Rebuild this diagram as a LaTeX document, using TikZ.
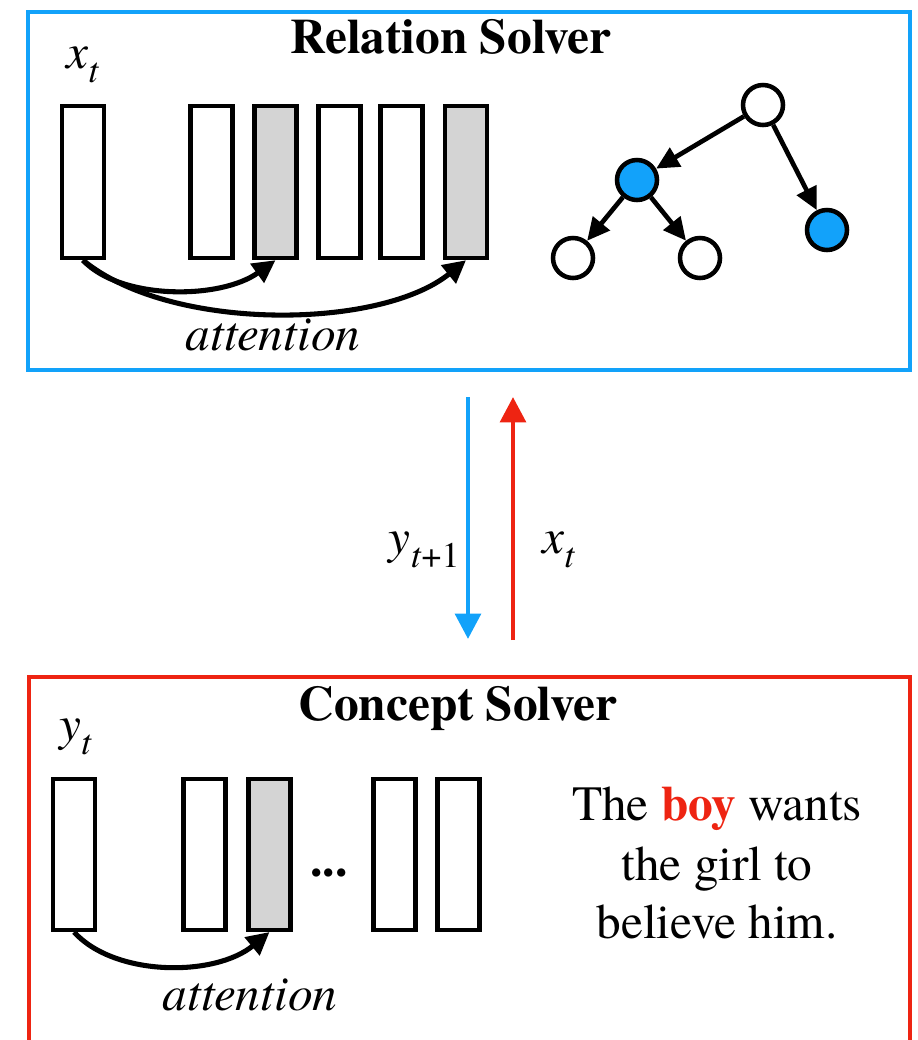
\documentclass[tikz,border=0pt]{standalone}
\usepackage{fontspec}
\setmainfont{texgyretermes}[Extension=.otf, UprightFont=*-regular, BoldFont=*-bold, ItalicFont=*-italic, BoldItalicFont=*-bolditalic]
\usetikzlibrary{arrows.meta}
\definecolor{rsblue}{RGB}{18,162,250}
\definecolor{csred}{RGB}{238,36,18}
\definecolor{cellgray}{RGB}{212,212,212}
\tikzset{
  cell/.style={draw=black, line width=3.3pt, fill=white, minimum width=31.5pt, minimum height=114pt, inner sep=0pt},
  graycell/.style={cell, fill=cellgray},
  attn/.style={line width=3.8pt, -{Triangle[length=17pt,width=17pt]}},
  tnode/.style={circle, draw=black, line width=3.4pt, fill=white, minimum size=30pt, inner sep=0pt},
  bluetnode/.style={tnode, fill=rsblue},
  tedge/.style={line width=3.5pt, -{Triangle[length=17pt,width=16pt]}},
  flow/.style={line width=3.6pt, -{Triangle[length=19pt,width=19pt]}},
  big/.style={font=\fontsize{37}{44}\selectfont, inner sep=0pt},
  title/.style={font=\fontsize{37}{44}\selectfont\bfseries, inner sep=0pt}
}
\begin{document}
\begin{tikzpicture}[x=0.75pt,y=-0.75pt]
\useasboundingbox (0,0) rectangle (918,1040);
% ---------- Relation Solver ----------
\node[draw=rsblue, line width=3.3pt, minimum width=661.5pt, minimum height=268.5pt, inner sep=0pt] (topbox) at (469,191) {};
\node[title, anchor=base] (rtitle) at (451,53) {Relation Solver};
\node[big, anchor=base west] (xtlabel) at (66,68) {\textit{x}\raisebox{-0.3em}{\fontsize{27}{30}\selectfont\textit{t}}};
\node[cell] (r1) at (83,182) {};
\node[cell] (r2) at (211.5,182) {};
\node[graycell] (r3) at (275.5,182) {};
\node[cell] (r4) at (339.5,182) {};
\node[cell] (r5) at (401.5,182) {};
\node[graycell] (r6) at (466,182) {};
\draw[attn] (r1.south) .. controls (120,300) and (220,300) .. (r3.south);
\draw[attn] (r1.south) .. controls (170,332) and (380,330) .. (r6.south);
\node[big, anchor=base] (rattn) at (273,350) {\textit{attention}};
% tree
\node[tnode] (root) at (763,105) {};
\node[bluetnode] (mid) at (637,180) {};
\node[bluetnode] (rgt) at (827,230) {};
\node[tnode] (ll) at (573,258) {};
\node[tnode] (ml) at (700,258) {};
\draw[tedge] (root) -- (mid);
\draw[tedge] (root) -- (rgt);
\draw[tedge] (mid) -- (ll);
\draw[tedge] (mid) -- (ml);
% ---------- middle arrows ----------
\coordinate (bdtop) at (468,397);
\coordinate (bdbot) at (468,639);
\coordinate (rutop) at (513,397);
\coordinate (rubot) at (513,640);
\draw[flow, rsblue] (bdtop) -- (bdbot);
\draw[flow, csred] (rubot) -- (rutop);
\node[big, anchor=base east] (ylab) at (460,553) {\textit{y}\raisebox{-0.3em}{\fontsize{27}{30}\selectfont\textit{t}+1}};
\node[big, anchor=base west] (xlab) at (542,553) {\textit{x}\raisebox{-0.3em}{\fontsize{27}{30}\selectfont\textit{t}}};
% ---------- Concept Solver ----------
\draw[csred, line width=3.3pt] (29,1050) -- (29,677) -- (910,677) -- (910,1050);
\node[title, anchor=base] (ctitle) at (458,720) {Concept Solver};
\node[big, anchor=base west] (ytlabel) at (59,740) {\textit{y}\raisebox{-0.3em}{\fontsize{27}{30}\selectfont\textit{t}}};
\node[cell, minimum height=113pt] (c1) at (74,854.5) {};
\node[cell, minimum height=113pt] (c2) at (204.5,854.5) {};
\node[graycell, minimum height=113pt] (c3) at (269.5,854.5) {};
\node[big, anchor=base] (dots) at (329,876) {\textbf{...}};
\node[cell, minimum height=113pt] (c4) at (394.5,854.5) {};
\node[cell, minimum height=113pt] (c5) at (458.5,854.5) {};
\draw[attn] (c1.south) .. controls (115,977) and (215,977) .. (c3.south);
\node[big, anchor=base] (cattn) at (250,1010) {\textit{attention}};
\node[big, anchor=base] (s1) at (717,820) {The \textcolor{csred}{\textbf{boy}} wants};
\node[big, anchor=base] (s2) at (717,880) {the girl to};
\node[big, anchor=base] (s3) at (717,938) {believe him.};
\end{tikzpicture}
\end{document}
